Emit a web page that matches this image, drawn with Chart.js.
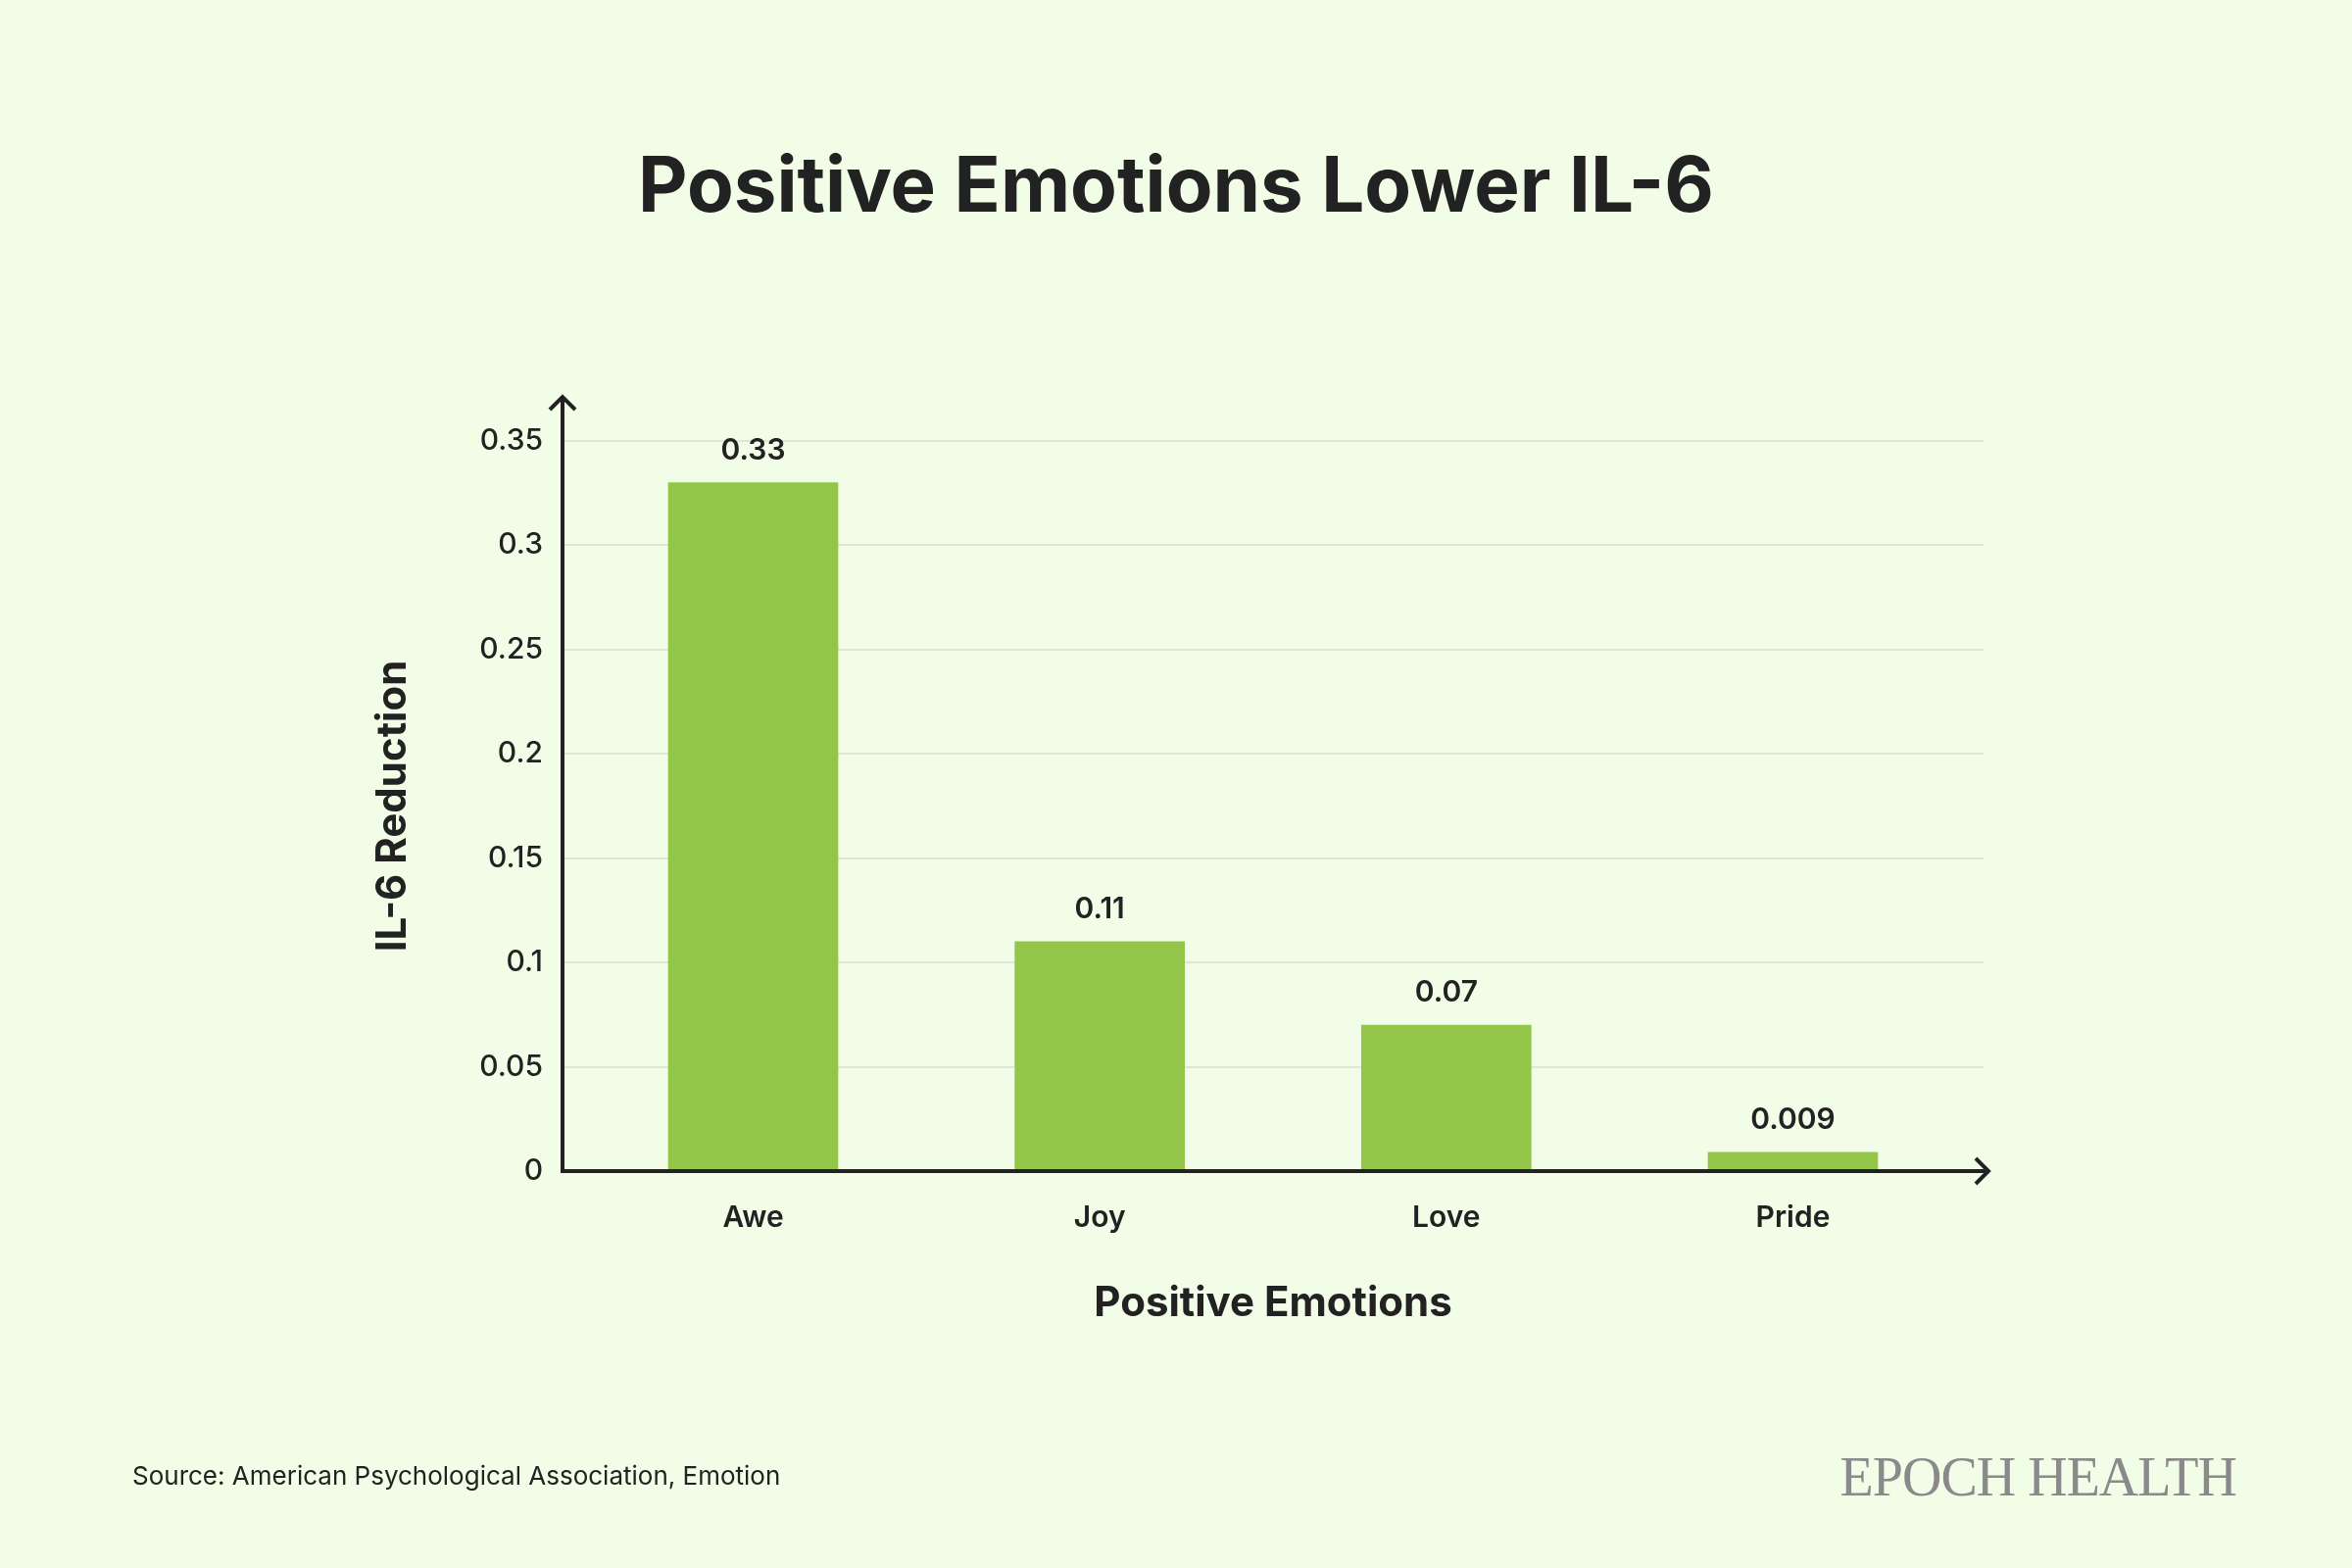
<!DOCTYPE html>
<html>
<head>
<meta charset="utf-8">
<script src="https://cdn.jsdelivr.net/npm/chart.js@4"></script>
<style>
  html, body { margin: 0; padding: 0; background: #f2fde8; }
  #wrap { position: relative; width: 2400px; height: 1600px; font-family: Inter, "Noto Sans", sans-serif; color: #222; }
  #title { position: absolute; top: 140px; left: 0; width: 2400px; text-align: center; font-size: 78px; font-weight: 700; }
  #source { position: absolute; top: 1490px; left: 135px; font-size: 26px; }
  #logo { position: absolute; top: 1475px; right: 118px; font-family: "Liberation Serif", "DejaVu Serif", serif; font-size: 56px; color: #8a8a8a; letter-spacing: -1px; }
  canvas { position: absolute; top: 0; left: 0; }
</style>
</head>
<body>
<div id="wrap">
  <div id="title">Positive Emotions Lower IL-6</div>
  <canvas id="chart" width="2400" height="1600"></canvas>
  <div id="source">Source: American Psychological Association, Emotion</div>
  <div id="logo">EPOCH HEALTH</div>
</div>
<script>
var categories = ['Awe', 'Joy', 'Love', 'Pride'];
var values = [0.33, 0.11, 0.07, 0.009];
var valueLabels = ['0.33', '0.11', '0.07', '0.009'];
var yTicks = [0, 0.05, 0.1, 0.15, 0.2, 0.25, 0.3, 0.35];

var ink = '#222222';
var font = 'Inter, "Noto Sans", sans-serif';

// axis lines with arrow heads
var axisArrows = {
  id: 'axisArrows',
  afterDraw: function (chart) {
    var ctx = chart.ctx, a = chart.chartArea;
    ctx.save();
    ctx.strokeStyle = ink;
    ctx.lineWidth = 4;
    ctx.beginPath();
    ctx.moveTo(a.left, a.top - 45);
    ctx.lineTo(a.left, a.bottom);
    ctx.lineTo(a.right + 5, a.bottom);
    ctx.stroke();
    ctx.beginPath();
    ctx.moveTo(a.left - 13, a.top - 32);
    ctx.lineTo(a.left, a.top - 45);
    ctx.lineTo(a.left + 13, a.top - 32);
    ctx.moveTo(a.right - 8, a.bottom - 13);
    ctx.lineTo(a.right + 5, a.bottom);
    ctx.lineTo(a.right - 8, a.bottom + 13);
    ctx.stroke();
    ctx.restore();
  }
};

// value labels above bars
var barLabels = {
  id: 'barLabels',
  afterDatasetsDraw: function (chart) {
    var ctx = chart.ctx;
    ctx.save();
    ctx.fillStyle = ink;
    ctx.font = '600 30px ' + font;
    ctx.textAlign = 'center';
    ctx.textBaseline = 'bottom';
    chart.getDatasetMeta(0).data.forEach(function (bar, i) {
      ctx.fillText(valueLabels[i], bar.x, bar.y - 18);
    });
    ctx.restore();
  }
};

new Chart(document.getElementById('chart'), {
  type: 'bar',
  data: {
    datasets: [{
      data: values.map(function (v, i) { return { x: i, y: v }; }),
      backgroundColor: '#93c548',
      barThickness: 173
    }]
  },
  plugins: [axisArrows, barLabels],
  options: {
    responsive: false,
    animation: false,
    layout: { padding: { left: 372, right: 376, top: 450, bottom: 240 } },
    plugins: { legend: { display: false }, tooltip: { enabled: false } },
    scales: {
      y: {
        min: 0,
        max: 0.35,
        afterBuildTicks: function (scale) {
          scale.ticks = yTicks.map(function (v) { return { value: v }; });
        },
        afterFit: function (scale) { scale.width = 202; },
        border: { display: false },
        grid: { color: '#dfe6d8', lineWidth: 2, drawTicks: false },
        ticks: {
          padding: 20,
          color: ink,
          font: { size: 30, family: font, weight: '500' },
          callback: function (v) { return String(+v.toFixed(3)); }
        },
        title: {
          display: true,
          text: 'IL-6 Reduction',
          color: ink,
          font: { size: 42, weight: '700', family: font }
        }
      },
      x: {
        type: 'linear',
        min: -0.55,
        max: 3.55,
        offset: false,
        afterBuildTicks: function (scale) {
          scale.ticks = categories.map(function (c, i) { return { value: i }; });
        },
        afterFit: function (scale) { scale.height = 165; },
        border: { display: false },
        grid: { display: false },
        ticks: {
          padding: 22,
          color: ink,
          font: { size: 30, family: font, weight: '600' },
          callback: function (v) { return categories[v]; }
        },
        title: {
          display: true,
          text: 'Positive Emotions',
          color: ink,
          padding: { top: 30 },
          font: { size: 42, weight: '700', family: font }
        }
      }
    }
  }
});
</script>
</body>
</html>
